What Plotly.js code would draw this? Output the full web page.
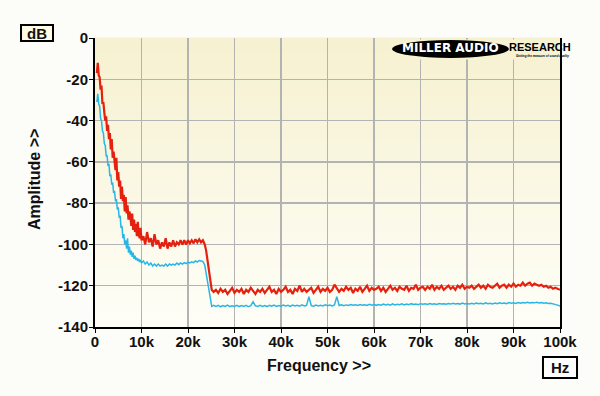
<!DOCTYPE html>
<html><head><meta charset="utf-8">
<script src="https://cdn.plot.ly/plotly-3.0.1.min.js"></script>
<style>html,body{margin:0;padding:0;background:#fcfcf8;}#chart{width:600px;height:396px;}</style>
</head><body><div id="chart"></div>
<script>
// Frequencies in kHz
const freqLow = [0.4,0.6,0.8,1,1.2,1.4,1.6,1.8,2,2.2,2.4,2.6,2.8,3,3.2,3.4,3.6,3.8,4,4.2,4.4,4.6,4.8,5,5.2,5.4,5.6,5.8,6,6.2,6.4,6.6,6.8,7,7.2,7.4,7.6,7.8,8,8.2,8.4,8.6,8.8,9,9.2,9.4,9.6,9.8,10];
const freqMid = [10.4,10.8,11.2,11.6,12,12.4,12.8,13.2,13.6,14,14.4,14.8,15.2,15.6,16,16.4,16.8,17.2,17.6,18,18.4,18.8,19.2,19.6,20,20.4,20.8,21.2,21.6,22,22.4,22.8,23.2,23.6];
const freqEdge = [23.9,24.2,24.5,24.8,25.1,25.5];
const freqHigh = [26,26.5,27,27.5,28,28.5,29,29.5,30,30.5,31,31.5,32,32.5,33,33.5,34,34.5,35,35.5,36,36.5,37,37.5,38,38.5,39,39.5,40,40.5,41,41.5,42,42.5,43,43.5,44,44.5,45,45.5,46,46.5,47,47.5,48,48.5,49,49.5,50,50.5,51,51.5,52,52.5,53,53.5,54,54.5,55,55.5,56,56.5,57,57.5,58,58.5,59,59.5,60,60.5,61,61.5,62,62.5,63,63.5,64,64.5,65,65.5,66,66.5,67,67.5,68,68.5,69,69.5,70,70.5,71,71.5,72,72.5,73,73.5,74,74.5,75,75.5,76,76.5,77,77.5,78,78.5,79,79.5,80,80.5,81,81.5,82,82.5,83,83.5,84,84.5,85,85.5,86,86.5,87,87.5,88,88.5,89,89.5,90,90.5,91,91.5,92,92.5,93,93.5,94,94.5,95,95.5,96,96.5,97,97.5,98,98.5,99,99.5,100];

// Red trace (dB)
const redLow = [-17,-12,-18,-19,-25,-23,-32,-31,-36,-40,-38,-45,-42,-49,-46,-54,-49,-58,-55,-60,-64,-58,-69,-65,-72,-69,-78,-72,-79,-76,-84,-77,-85,-81,-88,-84,-86,-91,-85,-93,-88,-94,-90,-96,-89,-95,-97,-92,-98];
const redMid = [-96,-100,-94,-99,-97,-101,-95,-100,-98,-102,-99,-101,-97,-102,-99,-101,-98,-101,-99,-100,-98,-100,-98,-100,-98,-99.5,-98,-99.5,-97.5,-99,-97.5,-99,-98,-100];
const redEdge = [-103,-108,-114,-119,-122,-123];
const redHigh = [
-122,-123.5,-121.5,-123,-122,-124,-122.5,-121,-123.5,-122,
-123,-121.5,-124,-122,-123,-121,-122.5,-124,-122,-123,
-121.5,-123.5,-122,-120.5,-123,-122,-124,-121.5,-123,-122,
-120.5,-123,-122,-124,-121.5,-122.5,-120,-123,-121.5,-123,
-122,-121,-123.5,-122,-120.5,-123,-121.5,-122.5,-121,-123,
-122,-119.5,-121,-123,-121.5,-122.5,-120.5,-122,-121,-123.5,
-121.5,-122.5,-120.5,-123,-121.5,-120,-122.5,-121,-122,-121.5,
-120.5,-122.5,-121,-123,-121.5,-120,-122,-121,-122.5,-120.5,
-121.5,-122,-120,-122.5,-121,-121.5,-119.5,-122,-121,-120.5,
-122,-120.5,-121.5,-119.5,-122,-120.5,-121.5,-120,-122,-121,
-120,-121.5,-120.5,-122,-120,-121,-119.5,-121.5,-120.5,-121,
-120,-121.5,-120.5,-119.5,-121,-120,-121.5,-119.5,-120.5,-121,
-120,-119,-121,-120,-119.5,-121,-119.5,-120.5,-119,-120.5,
-119.5,-120,-118.5,-120,-119,-118.5,-120,-119,-119.5,-120,
-119.5,-120.5,-120,-121,-120.5,-121.5,-121,-121.5,-122];

// Blue trace (dB)
const blueLow = [-31,-27,-32,-33,-39,-40,-45,-46,-51,-52,-57,-57,-62,-61,-67,-66,-71,-70,-75,-74,-79,-78,-83,-82,-87,-86,-92,-91,-97,-95,-100,-98,-102,-97,-104,-101,-105,-103,-106,-104,-107,-105.5,-107.5,-106.5,-108,-107,-108.5,-107.5,-109];
const blueMid = [-108,-109.5,-108.5,-110,-109,-110.5,-109.5,-110.5,-109.5,-110.5,-110,-110.5,-109.5,-110.5,-109.5,-110,-109.5,-110,-109,-109.8,-109,-109.5,-108.8,-109.3,-108.6,-109,-108.4,-108.8,-108,-108.5,-107.8,-108,-108.2,-110];
const blueEdge = [-114,-119,-124,-128,-130,-129.5];
const blueHigh = [
-130,-129.5,-130.2,-129.6,-130,-129.4,-130.1,-129.7,-130,-129.5,
-130.1,-129.6,-130,-129.5,-130.2,-129.7,-127.8,-129.8,-130,-129.5,
-130,-129.6,-130.1,-129.5,-129.9,-129.4,-130,-129.6,-129.9,-129.4,
-129.8,-129.5,-130,-129.4,-129.8,-129.5,-129.9,-129.3,-129.8,-129.5,
-125.3,-129.6,-129.9,-129.4,-129.8,-129.5,-129.8,-129.3,-129.7,-129.4,
-129.8,-129.3,-125.3,-129.6,-129.2,-129.7,-129.3,-129.6,-129.1,-129.5,
-129.2,-129.6,-129.1,-129.5,-129.2,-129.6,-129,-129.4,-129.1,-129.5,
-129.1,-129.4,-128.9,-129.3,-129,-129.4,-128.8,-129.3,-129,-129.2,
-128.8,-129.3,-128.9,-129.2,-128.7,-129.1,-128.9,-129.2,-128.7,-129,
-128.8,-129.1,-128.6,-129,-128.8,-129.1,-128.6,-128.9,-128.7,-129,
-128.6,-128.9,-128.5,-128.8,-128.6,-128.9,-128.4,-128.8,-128.6,-128.9,
-128.5,-128.8,-128.4,-128.7,-128.5,-128.8,-128.3,-128.7,-128.5,-128.8,
-128.4,-128.7,-128.3,-128.6,-128.4,-128.7,-128.2,-128.5,-128.3,-128.6,
-128.2,-128.5,-128.1,-128.4,-128,-128.4,-128.1,-128.3,-128,-128.4,
-128.2,-128.5,-128.3,-128.6,-128.5,-128.8,-129,-129.4,-129.8];

const xTickVals = [0,10,20,30,40,50,60,70,80,90,100];
const xTickText = ['0','10k','20k','30k','40k','50k','60k','70k','80k','90k','100k'];
const yTickVals = [-140,-120,-100,-80,-60,-40,-20,0];
const yTickText = ['-140','-120','-100','-80','-60','-40','-20','0'];

const freq = freqLow.concat(freqMid, freqEdge, freqHigh);
const red = redLow.concat(redMid, redEdge, redHigh);
const blue = blueLow.concat(blueMid, blueEdge, blueHigh);

const FONT = 'Liberation Sans, Arial, Helvetica, sans-serif';

// background gradient strips
const shapes = [];
const NSTRIP = 40;
const gradTop = [246,241,207], gradBot = [254,254,247];
for (let i = 0; i < NSTRIP; i++) {
  const t = (i + 0.5) / NSTRIP;
  const c = gradBot.map((b, k) => Math.round(b + (gradTop[k] - b) * t));
  shapes.push({type:'rect', xref:'x domain', yref:'y domain', x0:0, x1:1, y0:i/NSTRIP, y1:(i+1)/NSTRIP + 0.002,
    fillcolor:`rgb(${c.join(',')})`, line:{width:0}, layer:'below'});
}
// logo background
shapes.push({type:'rect', xref:'paper', yref:'paper', x0:0.632, x1:0.997, y0:0.926, y1:0.995,
  fillcolor:'rgb(246,242,210)', line:{width:0}, layer:'above'});
// logo ellipse
shapes.push({type:'circle', xref:'paper', yref:'paper', x0:0.639, x1:0.890, y0:0.931, y1:0.993,
  fillcolor:'#000', line:{width:0}, layer:'above'});
// dB box
shapes.push({type:'rect', xref:'paper', yref:'paper', x0:-0.1591, x1:-0.0903, y0:0.9896, y1:1.045,
  fillcolor:'#fffbe4', line:{color:'#000', width:2}});
// Hz box
shapes.push({type:'rect', xref:'paper', yref:'paper', x0:0.9634, x1:1.0366, y0:-0.1765, y1:-0.1038,
  fillcolor:'#ffffff', line:{color:'#000', width:2}});

const traces = [
  {x: freq, y: blue, type:'scatter', mode:'lines', line:{color:'#27b6e8', width:1.5}, hoverinfo:'skip'},
  {x: freq, y: red, type:'scatter', mode:'lines', line:{color:'#e4210f', width:2.2}, hoverinfo:'skip'}
];

const axisCommon = {
  showline:true, linecolor:'#000', linewidth:2,
  showgrid:true, gridcolor:'#b3b3b3', gridwidth:1.5, zeroline:false,
  ticks:'outside', ticklen:4, tickwidth:1, tickcolor:'#000',
  tickfont:{family:FONT, size:15, color:'#111', weight:'bold'}
};

const TITLEFONT = {family:FONT, size:16, color:'#111', weight:'bold'};

const layout = {
  width:600, height:396,
  margin:{l:95, r:40, t:38, b:69},
  paper_bgcolor:'#fcfcf8', plot_bgcolor:'rgba(0,0,0,0)',
  showlegend:false,
  xaxis: Object.assign({}, axisCommon, {
    range:[0,100], tickmode:'array', tickvals:xTickVals, ticktext:xTickText,
    mirror:false, ticklabelstandoff:-4
  }),
  yaxis: Object.assign({}, axisCommon, {
    range:[-140,0], tickmode:'array', tickvals:yTickVals, ticktext:yTickText,
    mirror:true, ticklabelstandoff:-2
  }),
  shapes: shapes,
  annotations: [
    {xref:'paper', yref:'paper', x:0.4817, y:-0.1349, text:'Frequency >>', showarrow:false,
      font:TITLEFONT, xanchor:'center', yanchor:'middle'},
    {xref:'paper', yref:'paper', x:-0.129, y:0.5087, text:'Amplitude >>', showarrow:false, textangle:-90,
      font:TITLEFONT, xanchor:'center', yanchor:'middle'},
    {xref:'paper', yref:'paper', x:-0.1247, y:1.0173, text:'dB', showarrow:false,
      font:{family:FONT, size:15, color:'#111', weight:'bold'}, xanchor:'center', yanchor:'middle'},
    {xref:'paper', yref:'paper', x:1.0, y:-0.1401, text:'Hz', showarrow:false,
      font:{family:FONT, size:15, color:'#111', weight:'bold'}, xanchor:'center', yanchor:'middle'},
    {xref:'paper', yref:'paper', x:0.765, y:0.9637, text:'MILLER AUDIO', showarrow:false,
      font:{family:'DejaVu Sans, sans-serif', size:12, color:'#fff', weight:'bold'}, xanchor:'center', yanchor:'middle'},
    {xref:'paper', yref:'paper', x:0.886, y:0.9680, text:'RESEARCH', showarrow:false,
      font:{family:FONT, size:11, color:'#000', weight:'bold'}, xanchor:'left', yanchor:'middle'},
    {xref:'paper', yref:'paper', x:0.962, y:0.9377, text:'<i>Getting the measure of sound quality</i>', showarrow:false,
      font:{family:FONT, size:3, color:'#000', weight:'bold'}, xanchor:'center', yanchor:'middle'}
  ]
};

Plotly.newPlot('chart', traces, layout, {displayModeBar:false, staticPlot:true});
</script>
</body></html>
